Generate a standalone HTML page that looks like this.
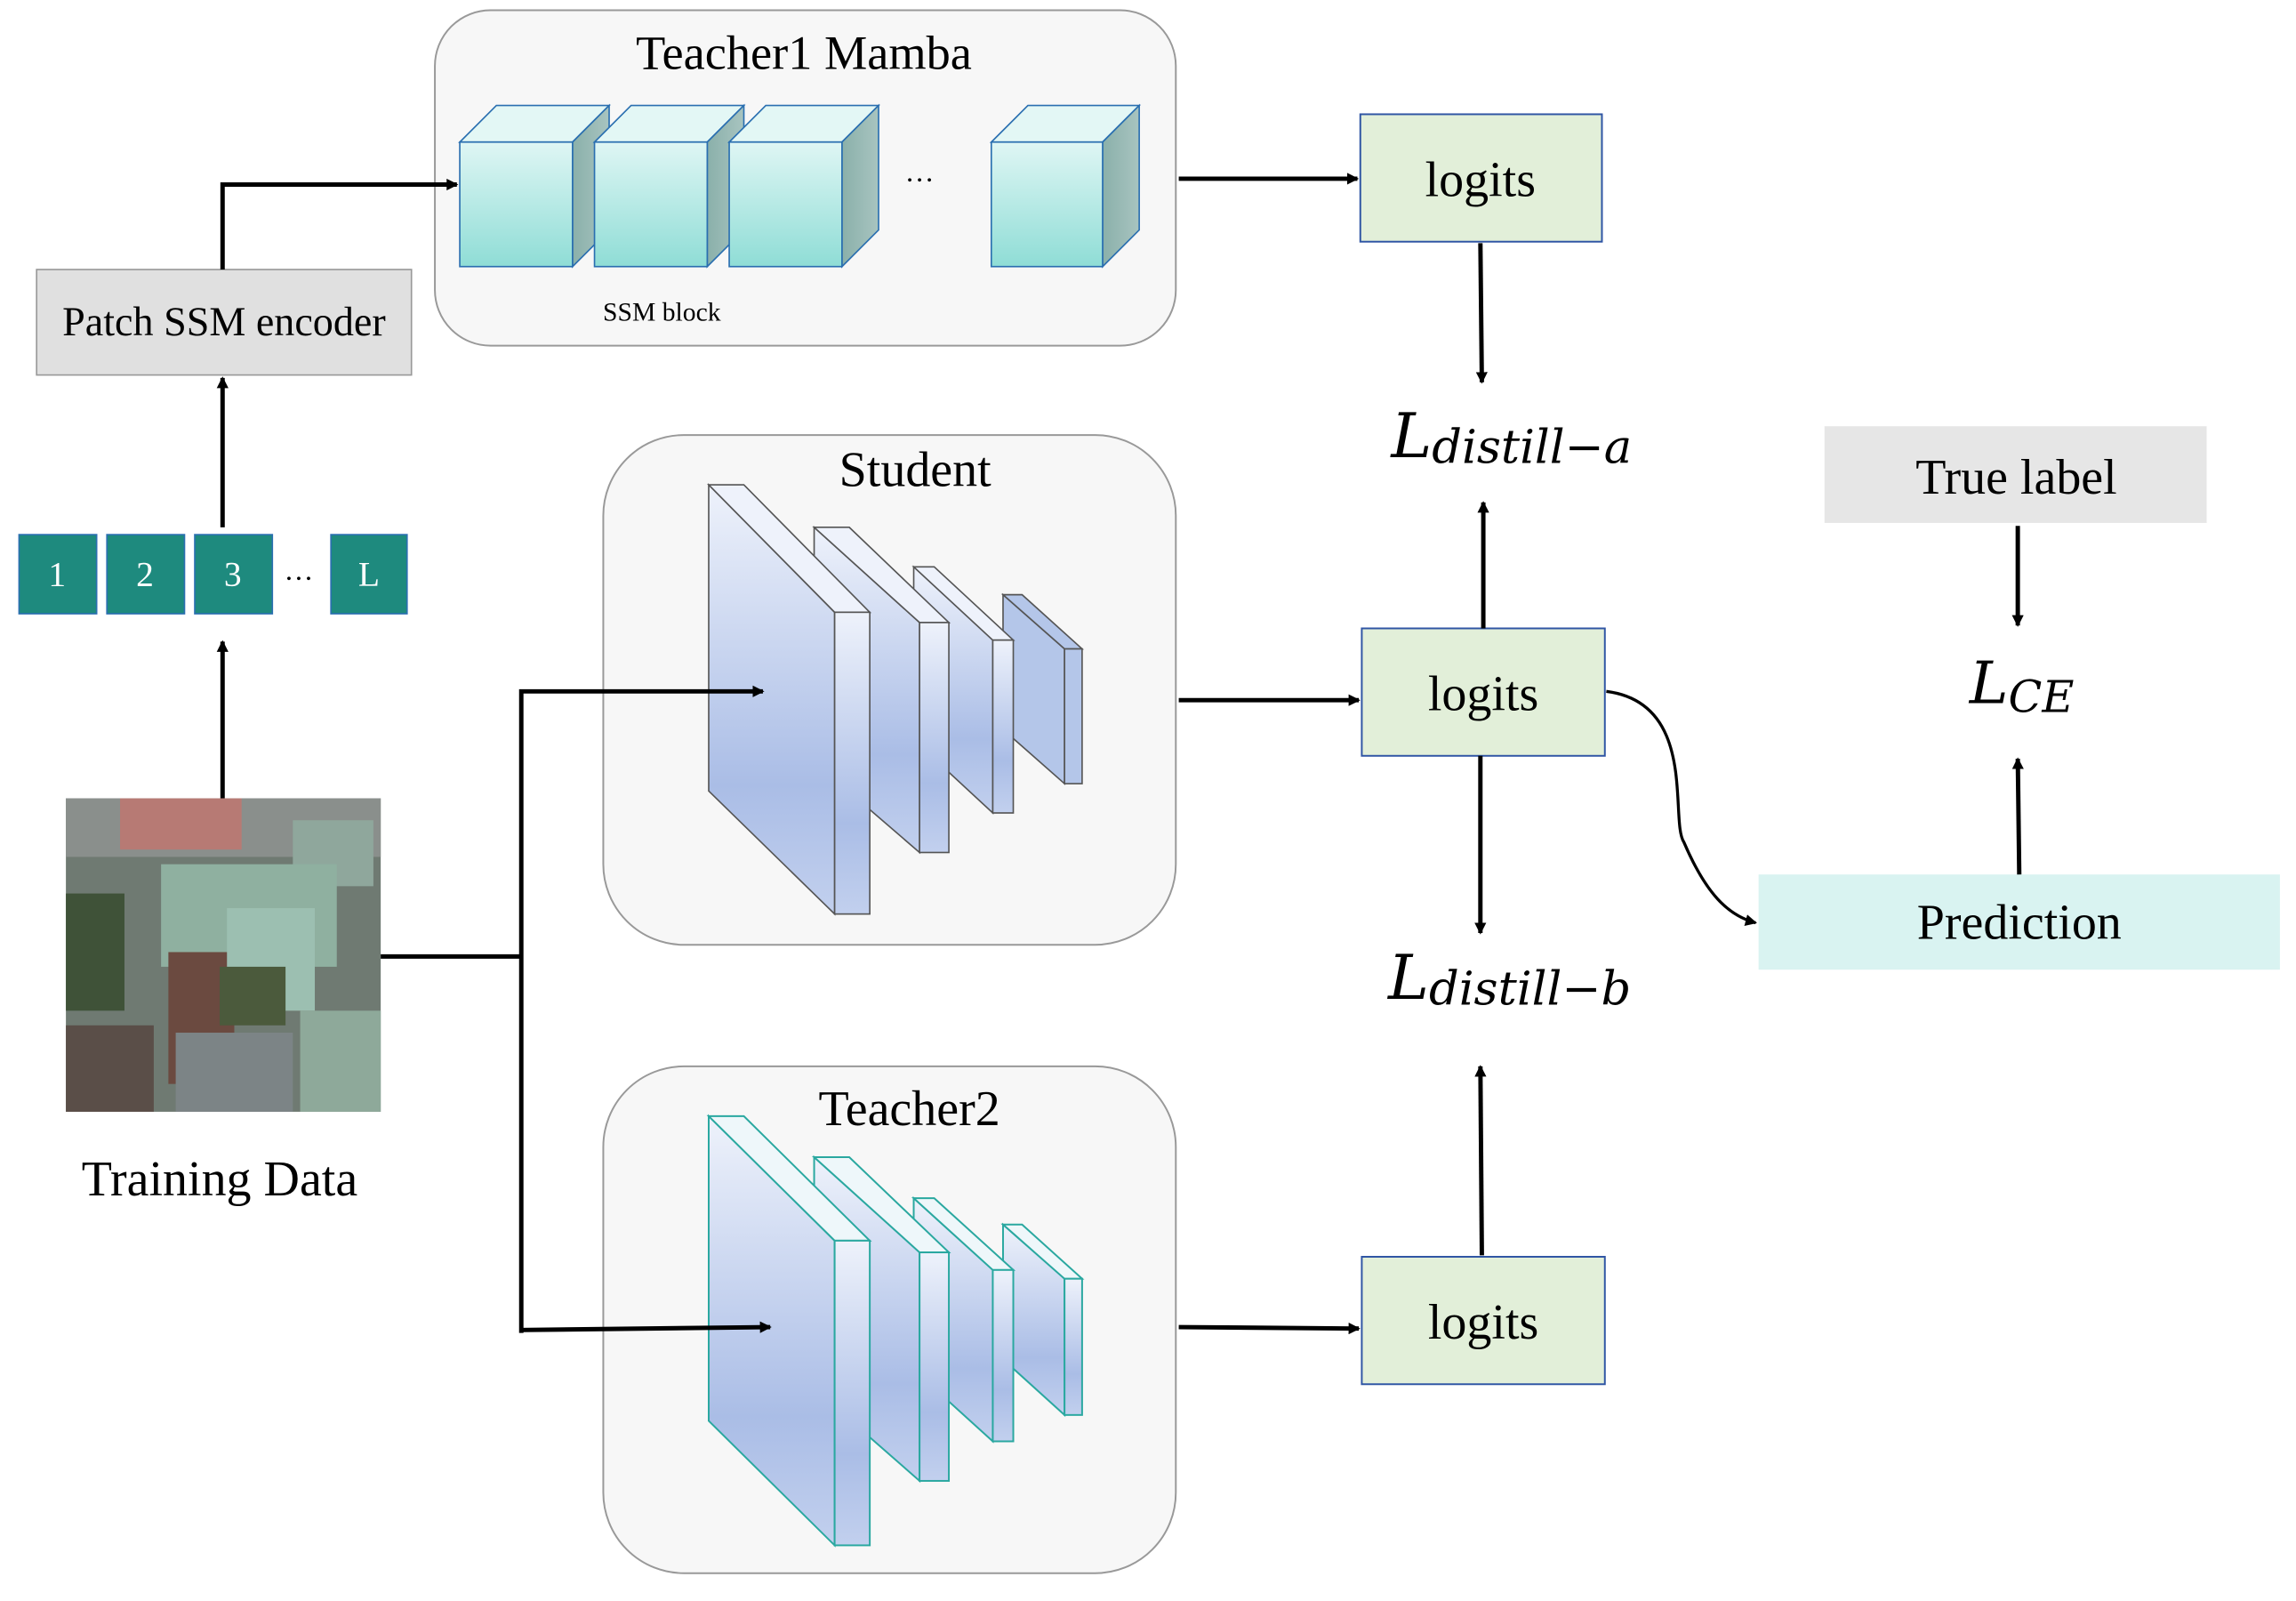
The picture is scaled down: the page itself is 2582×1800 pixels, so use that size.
<!DOCTYPE html>
<html><head><meta charset="utf-8"><style>html,body{margin:0;padding:0;background:#fff}svg{display:block}</style></head>
<body>
<svg xmlns="http://www.w3.org/2000/svg" width="2582" height="1800" viewBox="0 0 1568 1093" preserveAspectRatio="none" font-family="Liberation Serif, serif">
<defs>
<marker id="a" markerWidth="8" markerHeight="8" refX="7" refY="4" orient="auto" markerUnits="userSpaceOnUse"><path d="M0,0 L8,4 L0,8 Z" fill="#000"/></marker>
<linearGradient id="bl" x1="0" y1="0" x2="0" y2="1"><stop offset="0" stop-color="#eef2fb"/><stop offset="0.7" stop-color="#aabde6"/><stop offset="1" stop-color="#c2d0ee"/></linearGradient>
<linearGradient id="cy" x1="0" y1="0" x2="0" y2="1"><stop offset="0" stop-color="#dff6f4"/><stop offset="1" stop-color="#8fddd6"/></linearGradient>
<linearGradient id="cs" x1="0" y1="0" x2="1" y2="0"><stop offset="0" stop-color="#8ab0aa"/><stop offset="1" stop-color="#a8c4c0"/></linearGradient>
</defs>
<rect x="297" y="7" width="506" height="229" rx="38" fill="#f7f7f7" stroke="#999" stroke-width="1.2"/>
<rect x="412" y="297" width="391" height="348" rx="55" fill="#f7f7f7" stroke="#999" stroke-width="1.2"/>
<rect x="412" y="728" width="391" height="346" rx="55" fill="#f7f7f7" stroke="#999" stroke-width="1.2"/>
<text x="549" y="47" font-size="33" text-anchor="middle">Teacher1  Mamba</text>
<text x="625" y="332" font-size="34" text-anchor="middle">Student</text>
<text x="621" y="768" font-size="34" text-anchor="middle">Teacher2</text>
<text x="452" y="219" font-size="18" text-anchor="middle">SSM block</text>
<g stroke="#2a6fb0" stroke-width="1">
<path d="M314,97 L339,72 L416,72 L391,97 Z" fill="#e3f7f5"/><path d="M391,97 L416,72 L416,157 L391,182 Z" fill="url(#cs)"/><rect x="314" y="97" width="77" height="85" fill="url(#cy)"/>
<path d="M406,97 L431,72 L508,72 L483,97 Z" fill="#e3f7f5"/><path d="M483,97 L508,72 L508,157 L483,182 Z" fill="url(#cs)"/><rect x="406" y="97" width="77" height="85" fill="url(#cy)"/>
<path d="M498,97 L523,72 L600,72 L575,97 Z" fill="#e3f7f5"/><path d="M575,97 L600,72 L600,157 L575,182 Z" fill="url(#cs)"/><rect x="498" y="97" width="77" height="85" fill="url(#cy)"/>
<path d="M677,97 L702,72 L778,72 L753,97 Z" fill="#e3f7f5"/><path d="M753,97 L778,72 L778,157 L753,182 Z" fill="url(#cs)"/><rect x="677" y="97" width="76" height="85" fill="url(#cy)"/>
</g>
<text x="628" y="124" font-size="20" text-anchor="middle">…</text>
<g stroke="#555" stroke-width="1" fill="url(#bl)">
<path d="M685,406 L727,443 L727,535 L685,498 Z" fill="#b4c6e9"/><path d="M685,406 L698,406 L739,443 L727,443 Z" fill="#b4c6e9"/><rect x="727" y="443" width="12" height="92" fill="#b4c6e9"/>
<path d="M624,387 L678,437 L678,555 L624,505 Z"/><path d="M624,387 L638,387 L692,437 L678,437 Z" fill="#eef2fb"/><rect x="678" y="437" width="14" height="118"/>
<path d="M556,360 L628,425 L628,582 L556,520 Z"/><path d="M556,360 L580,360 L648,425 L628,425 Z" fill="#eef2fb"/><rect x="628" y="425" width="20" height="157"/>
<path d="M484,331 L570,418 L570,624 L484,540 Z"/><path d="M484,331 L508,331 L594,418 L570,418 Z" fill="#eef2fb"/><rect x="570" y="418" width="24" height="206"/>
</g>
<g stroke="#2aa8a0" stroke-width="1.2" fill="url(#bl)">
<path d="M685,836 L727,873 L727,966 L685,928 Z"/><path d="M685,836 L698,836 L739,873 L727,873 Z" fill="#eef7fa"/><rect x="727" y="873" width="12" height="93"/>
<path d="M624,818 L678,867 L678,984 L624,935 Z"/><path d="M624,818 L638,818 L692,867 L678,867 Z" fill="#eef7fa"/><rect x="678" y="867" width="14" height="117"/>
<path d="M556,790 L628,855 L628,1011 L556,948 Z"/><path d="M556,790 L580,790 L648,855 L628,855 Z" fill="#eef7fa"/><rect x="628" y="855" width="20" height="156"/>
<path d="M484,762 L570,847 L570,1055 L484,970 Z"/><path d="M484,762 L508,762 L594,847 L570,847 Z" fill="#eef7fa"/><rect x="570" y="847" width="24" height="208"/>
</g>
<rect x="25" y="184" width="256" height="72" fill="#e0e0e0" stroke="#999"/>
<text x="153" y="229" font-size="28" text-anchor="middle">Patch SSM encoder</text>
<g fill="#1e8a7e" stroke="#2a6fb0" stroke-width="1">
<rect x="13" y="365" width="53" height="54"/><rect x="73" y="365" width="53" height="54"/><rect x="133" y="365" width="53" height="54"/><rect x="226" y="365" width="52" height="54"/>
</g>
<g fill="#fff" font-size="24" text-anchor="middle">
<text x="39" y="400">1</text><text x="99" y="400">2</text><text x="159" y="400">3</text><text x="252" y="400">L</text>
</g>
<text x="204" y="396" font-size="20" text-anchor="middle">…</text>
<g>
<rect x="45" y="545" width="215" height="214" fill="#6f7a72"/>
<rect x="45" y="545" width="215" height="40" fill="#8a8f8c"/>
<rect x="82" y="545" width="83" height="35" fill="#b77a74"/>
<rect x="200" y="560" width="55" height="45" fill="#8fa79c"/>
<rect x="110" y="590" width="120" height="70" fill="#8fb0a0"/>
<rect x="115" y="650" width="45" height="90" fill="#6b4a40"/>
<rect x="155" y="620" width="60" height="70" fill="#9cbfb1"/>
<rect x="150" y="660" width="45" height="40" fill="#4b5a3c"/>
<rect x="205" y="690" width="55" height="69" fill="#8ea99a"/>
<rect x="45" y="610" width="40" height="80" fill="#3f5238"/>
<rect x="45" y="700" width="60" height="59" fill="#5a4e48"/>
<rect x="120" y="705" width="80" height="54" fill="#7c8486"/>
</g>
<text x="150" y="816" font-size="34" text-anchor="middle">Training Data</text>
<g fill="#e2efd9" stroke="#2f55a4" stroke-width="1.2">
<rect x="929" y="78" width="165" height="87"/><rect x="930" y="429" width="166" height="87"/><rect x="930" y="858" width="166" height="87"/>
</g>
<g font-size="34" text-anchor="middle">
<text x="1011" y="134">logits</text><text x="1013" y="485">logits</text><text x="1013" y="914">logits</text>
</g>
<g font-family="DejaVu Serif, serif" font-style="italic">
<text x="950" y="312" font-size="42">L<tspan font-size="32" dy="4">distill−a</tspan></text>
<text x="948" y="682" font-size="42">L<tspan font-size="32" dy="4">distill−b</tspan></text>
<text x="1345" y="480" font-size="40">L<tspan font-size="30" dy="6">CE</tspan></text>
</g>
<rect x="1246" y="291" width="261" height="66" fill="#e6e6e6"/>
<text x="1377" y="337" font-size="34" text-anchor="middle">True label</text>
<rect x="1201" y="597" width="356" height="65" fill="#d9f3f1"/>
<text x="1379" y="641" font-size="34" text-anchor="middle">Prediction</text>
<g stroke="#000" stroke-width="3" fill="none">
<path d="M152,184 L152,126 L312,126" marker-end="url(#a)"/>
<path d="M152,360 L152,258" marker-end="url(#a)"/>
<path d="M152,545 L152,438" marker-end="url(#a)"/>
<path d="M260,653 L356,653"/>
<path d="M356,910 L356,472 L521,472" marker-end="url(#a)"/>
<path d="M356,908 L526,906" marker-end="url(#a)"/>
<path d="M805,122 L927,122" marker-end="url(#a)"/>
<path d="M805,478 L928,478" marker-end="url(#a)"/>
<path d="M805,906 L928,907" marker-end="url(#a)"/>
<path d="M1011,166 L1012,261" marker-end="url(#a)"/>
<path d="M1013,429 L1013,343" marker-end="url(#a)"/>
<path d="M1011,516 L1011,637" marker-end="url(#a)"/>
<path d="M1012,857 L1011,728" marker-end="url(#a)"/>
<path d="M1378,359 L1378,427" marker-end="url(#a)"/>
<path d="M1379,597 L1378,518" marker-end="url(#a)"/>
</g>
<path d="M1097,472 C1160,480 1140,560 1150,575 C1165,610 1180,625 1199,630" stroke="#000" stroke-width="2" fill="none" marker-end="url(#a)"/>
</svg>
</body></html>
